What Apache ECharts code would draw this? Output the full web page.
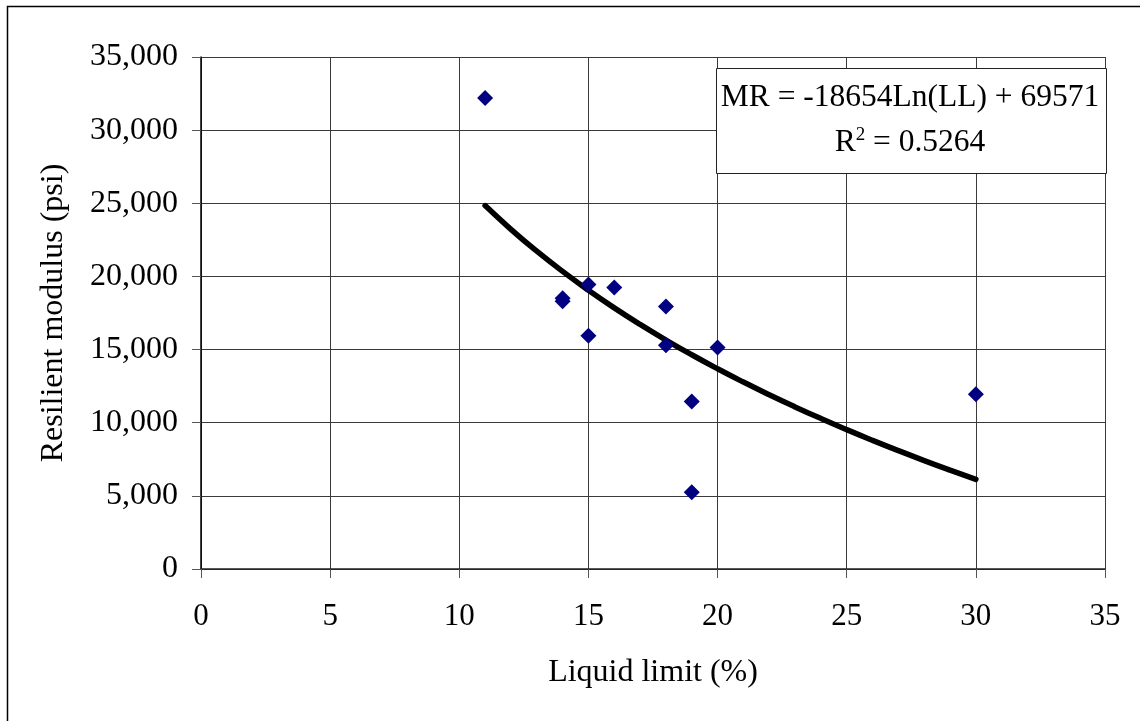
<!DOCTYPE html>
<html>
<head>
<meta charset="utf-8">
<script src="https://cdn.jsdelivr.net/npm/echarts@6/dist/echarts.min.js"></script>
<style>
html,body{margin:0;padding:0;background:#fff;}
#chart{width:1140px;height:721px;}
</style>
</head>
<body>
<div id="chart"></div>
<script>
// Measured points: liquid limit (%) and resilient modulus (psi)
const liquidLimit = [11, 14, 14, 15, 15, 16, 18, 18, 19, 19, 20, 30];
const resilientModulus = [32200, 18300, 18500, 19450, 15950, 19250, 17950, 15300, 11450, 5250, 15150, 11950];

// Logarithmic trendline as drawn (MR = -18654 Ln(LL) + 69571), read at integer LL
const trendLL = [11, 12, 13, 14, 15, 16, 17, 18, 19, 20, 21, 22, 23, 24, 25, 26, 27, 28, 29, 30];
const trendMR = [24841, 23218, 21724, 20342, 19055, 17851, 16720, 15654, 14645, 13689, 12779, 11911, 11082, 10288, 9526, 8795, 8091, 7412, 6758, 6125];

const xTicks = [0, 5, 10, 15, 20, 25, 30, 35];
const yTicks = [0, 5000, 10000, 15000, 20000, 25000, 30000, 35000];

const equationText = 'MR = -18654Ln(LL) + 69571';
const r2Value = '0.5264';
const xTitle = 'Liquid limit (%)';
const yTitle = 'Resilient modulus (psi)';

const FONT = '"Liberation Serif", "Times New Roman", serif';

const chart = echarts.init(document.getElementById('chart'), null, {renderer: 'canvas'});

const pts = liquidLimit.map((x, i) => [x, resilientModulus[i]]);
const trend = trendLL.map((x, i) => [x, trendMR[i]]);

chart.setOption({
  backgroundColor: '#ffffff',
  animation: false,
  grid: {left: 201, right: 35, top: 57, bottom: 152, containLabel: false},
  xAxis: {
    type: 'value',
    min: xTicks[0], max: xTicks[xTicks.length - 1], interval: 5,
    name: xTitle,
    nameLocation: 'middle',
    nameGap: 88,
    nameTextStyle: {fontFamily: FONT, fontSize: 32, color: '#000'},
    axisLine: {show: true, lineStyle: {color: '#222', width: 1.5}},
    axisTick: {show: true, inside: false, length: 9, lineStyle: {color: '#555'}},
    axisLabel: {fontFamily: FONT, fontSize: 31, color: '#000', margin: 32,
      formatter: v => String(v)},
    splitLine: {show: true, lineStyle: {color: '#3a3a3a', width: 1}}
  },
  yAxis: {
    type: 'value',
    min: yTicks[0], max: yTicks[yTicks.length - 1], interval: 5000,
    name: yTitle,
    nameLocation: 'middle',
    nameGap: 131,
    nameTextStyle: {fontFamily: FONT, fontSize: 32, color: '#000'},
    axisLine: {show: true, lineStyle: {color: '#000', width: 1.5}},
    axisTick: {show: true, inside: false, length: 9, lineStyle: {color: '#555'}},
    axisLabel: {fontFamily: FONT, fontSize: 32, color: '#000', margin: 23,
      formatter: v => v.toLocaleString('en-US')},
    splitLine: {show: true, lineStyle: {color: '#3a3a3a', width: 1}}
  },
  series: [
    {
      type: 'line',
      data: trend,
      smooth: true,
      showSymbol: false,
      symbol: 'none',
      lineStyle: {color: '#000', width: 5.5, cap: 'round'},
      z: 2
    },
    {
      type: 'scatter',
      data: pts,
      symbol: 'diamond',
      symbolSize: 16,
      itemStyle: {color: '#000080', opacity: 1},
      z: 3
    }
  ],
  graphic: [
    {
      type: 'rect',
      shape: {x: 7.5, y: 6.5, width: 1200, height: 800},
      style: {fill: 'none', stroke: '#000', lineWidth: 1.5},
      silent: true, z: 0
    },
    {
      type: 'rect',
      shape: {x: 716.5, y: 68.5, width: 390, height: 105},
      style: {fill: '#fff', stroke: '#222', lineWidth: 1},
      z: 10
    },
    {
      type: 'text',
      x: 910, y: 98,
      style: {
        text: equationText,
        font: '31.5px ' + FONT,
        fill: '#000',
        align: 'center',
        verticalAlign: 'middle'
      },
      z: 11
    },
    {
      type: 'text',
      x: 910, y: 143,
      style: {
        text: 'R{sup|2} = ' + r2Value,
        font: '31.5px ' + FONT,
        fill: '#000',
        align: 'center',
        verticalAlign: 'middle',
        rich: {
          sup: {fontFamily: FONT, fontSize: 19, verticalAlign: 'top', padding: [0, 0, 16, 0], fill: '#000'}
        }
      },
      z: 11
    }
  ]
});
</script>
</body>
</html>
